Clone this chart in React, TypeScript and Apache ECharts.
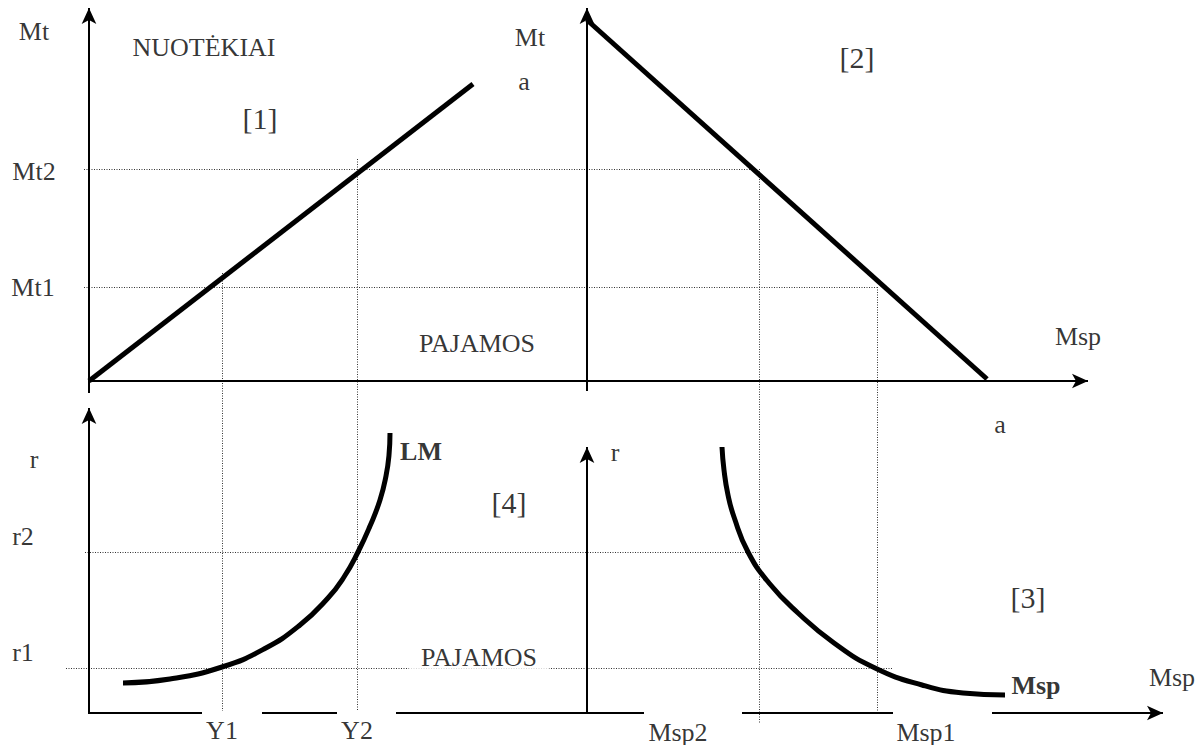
import React, { useEffect, useRef } from "react";
import * as echarts from "echarts";

// Diagram units: x 0..1200 (left→right), y 0..745 (top→bottom)
const X_MAX = 1200;
const Y_MAX = 745;

// Quadrant [1]: leakages line (NUOTĖKIAI vs PAJAMOS)
const leakageLine = [
  [89, 381],
  [473, 84],
];
// Quadrant [2]: Mt + Msp = a
const budgetLine = [
  [587, 20],
  [987, 379],
];
// Quadrant [4]: LM curve
const lmCurve = [
  [123, 683],
  [170, 679],
  [222, 667],
  [264, 649],
  [300, 625],
  [328, 598],
  [344, 577],
  [358, 552],
  [370, 526],
  [380, 500],
  [386, 476],
  [389, 455],
  [390, 433],
];
// Quadrant [3]: Msp curve
const mspCurve = [
  [722, 447],
  [724, 470],
  [728, 495],
  [734, 517],
  [748, 552],
  [769, 583],
  [798, 613],
  [834, 643],
  [875, 668],
  [922, 685],
  [963, 693],
  [1005, 695],
];

// Axes with arrow heads (from → to)
const arrowAxes = [
  [[89, 393], [89, 8]],
  [[89, 381], [1088, 381]],
  [[587, 391], [587, 8]],
  [[89, 713], [89, 408]],
  [[587, 713], [587, 447]],
  [[992, 713], [1163, 713]],
];
// Broken bottom axis pieces (no arrow)
const axisPieces = [
  [[88, 713], [202, 713]],
  [[262, 713], [337, 713]],
  [[396, 713], [644, 713]],
  [[742, 713], [893, 713]],
];
// Dotted guide lines
const guides = [
  [[84, 169], [757, 169]], // Mt2
  [[84, 287], [877, 287]], // Mt1
  [[222, 273], [222, 711]], // Y1
  [[357, 159], [357, 711]], // Y2
  [[85, 552], [759, 552]], // r2
  [[66, 668], [893, 668]], // r1
  [[759, 169], [759, 723]], // Msp2
  [[877, 287], [877, 713]], // Msp1
];

// Text annotations
const texts = [
  { text: "Mt", x: 34, y: 31, kind: "label" },
  { text: "NUOTĖKIAI", x: 204, y: 47, kind: "label" },
  { text: "Mt", x: 530, y: 37, kind: "label" },
  { text: "a", x: 524, y: 81, kind: "label" },
  { text: "[1]", x: 260, y: 118, kind: "tag" },
  { text: "Mt2", x: 34, y: 171, kind: "label" },
  { text: "Mt1", x: 33, y: 287, kind: "label" },
  { text: "PAJAMOS", x: 477, y: 343, kind: "label" },
  { text: "[2]", x: 857, y: 57, kind: "tag" },
  { text: "Msp", x: 1078, y: 336, kind: "label" },
  { text: "a", x: 1000, y: 424, kind: "label" },
  { text: "r", x: 34, y: 459, kind: "label" },
  { text: "LM", x: 421, y: 451, kind: "bold" },
  { text: "[4]", x: 509, y: 502, kind: "tag" },
  { text: "r2", x: 23, y: 536, kind: "label" },
  { text: "r", x: 615, y: 452, kind: "label" },
  { text: "[3]", x: 1028, y: 597, kind: "tag" },
  { text: "r1", x: 23, y: 652, kind: "label" },
  { text: "PAJAMOS", x: 479, y: 657, kind: "boxed" },
  { text: "Msp", x: 1036, y: 685, kind: "bold" },
  { text: "Msp", x: 1172, y: 677, kind: "label" },
  { text: "Y1", x: 222, y: 730, kind: "label" },
  { text: "Y2", x: 357, y: 730, kind: "label" },
  { text: "Msp2", x: 678, y: 732, kind: "label" },
  { text: "Msp1", x: 926, y: 732, kind: "label" },
];

const FONT = '"Liberation Serif", "Times New Roman", serif';

function labelStyle(kind: string) {
  const base: any = {
    show: true,
    position: "inside",
    formatter: "{b}",
    color: "#000",
    fontFamily: FONT,
    fontSize: 26,
    align: "center",
    verticalAlign: "middle",
  };
  if (kind === "tag") base.fontSize = 30;
  if (kind === "bold") {
    base.fontSize = 26;
    base.fontWeight = "bold";
  }
  if (kind === "boxed") {
    base.backgroundColor = "#fff";
    base.padding = [3, 12, 3, 12];
  }
  return base;
}

export default function App() {
  const ref = useRef<HTMLDivElement>(null);

  useEffect(() => {
    document.body.style.margin = "0";
    if (!ref.current) return;
    const chart = echarts.init(ref.current, null, { renderer: "svg" });

    const thick = { color: "#000", width: 5 };
    const curveSeries = (name: string, data: number[][], smooth: any) => ({
      name,
      type: "line",
      data,
      smooth,
      showSymbol: false,
      symbol: "none",
      lineStyle: thick,
      silent: true,
      z: 5,
    });

    const option: any = {
      animation: false,
      backgroundColor: "#fff",
      grid: { left: 0, right: 0, top: 0, bottom: 0 },
      xAxis: { type: "value", min: 0, max: X_MAX, show: false },
      yAxis: { type: "value", min: 0, max: Y_MAX, inverse: true, show: false },
      series: [
        {
          name: "guides",
          type: "line",
          data: [],
          silent: true,
          z: 1,
          markLine: {
            silent: true,
            symbol: ["none", "none"],
            label: { show: false },
            lineStyle: { color: "#333", width: 1, type: [1, 1.5] },
            data: guides.map(([a, b]) => [{ coord: a }, { coord: b }]),
          },
        },
        {
          name: "axes",
          type: "line",
          data: [],
          silent: true,
          z: 2,
          markLine: {
            silent: true,
            symbol: ["none", "arrow"],
            symbolSize: [11, 16],
            label: { show: false },
            lineStyle: { color: "#000", width: 2, type: "solid" },
            data: arrowAxes.map(([a, b]) => [{ coord: a }, { coord: b }]),
          },
        },
        {
          name: "axisPieces",
          type: "line",
          data: [],
          silent: true,
          z: 2,
          markLine: {
            silent: true,
            symbol: ["none", "none"],
            label: { show: false },
            lineStyle: { color: "#000", width: 2, type: "solid" },
            data: axisPieces.map(([a, b]) => [{ coord: a }, { coord: b }]),
          },
        },
        curveSeries("leakage", leakageLine, false),
        curveSeries("budget", budgetLine, false),
        curveSeries("LM", lmCurve, 0.5),
        curveSeries("Msp", mspCurve, 0.5),
        {
          name: "texts",
          type: "scatter",
          symbolSize: 1,
          itemStyle: { color: "rgba(0,0,0,0)" },
          silent: true,
          z: 10,
          data: texts.map((t) => ({
            name: t.text,
            value: [t.x, t.y],
            label: labelStyle(t.kind),
          })),
        },
      ],
    };
    chart.setOption(option);
    return () => chart.dispose();
  }, []);

  return <div ref={ref} style={{ width: 1200, height: 745 }} />;
}
